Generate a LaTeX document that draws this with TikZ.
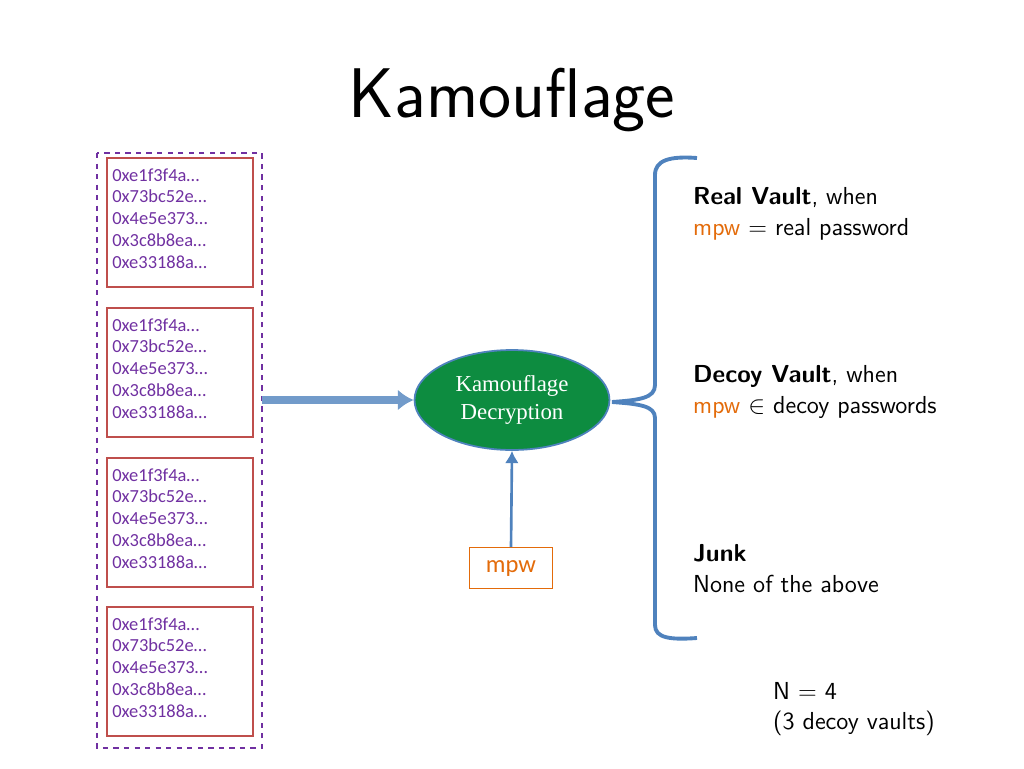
\documentclass[tikz,border=0pt]{standalone}
\usepackage{fontspec}
\setmainfont{Carlito}
\newfontfamily\serifface{Liberation Serif}
\usetikzlibrary{shapes.geometric,arrows.meta}
\definecolor{vault purple}{rgb}{0.44,0.19,0.63}
\definecolor{vault red}{rgb}{0.75,0.31,0.30}
\definecolor{vault blue}{rgb}{0.31,0.51,0.74}
\definecolor{vault green}{rgb}{0.05,0.55,0.25}
\definecolor{vault orange}{rgb}{0.89,0.42,0.04}
\tikzset{
  hexbox/.style = {draw=vault red, line width=1.4pt, minimum width=2.92cm, minimum height=2.58cm,
    text=vault purple, align=left, font=\fontsize{10.5}{13.6}\selectfont, inner sep=0pt},
  says/.style = {anchor=west, align=left, font=\fontsize{14}{17.6}\selectfont\sffamily}
}
\begin{document}
\begin{tikzpicture}[x=0.02cm, y=-0.02cm]
		\useasboundingbox (0, 0) rectangle (1024, 768);
		% title
		\node (title) at (512, 100) {\fontsize{40}{40}\selectfont\sffamily Kamouflage};
		% vault list
		\draw[vault purple, dashed, line width=1.6pt] (97, 153) rectangle (262, 748);
		\foreach \top in {158, 308, 458, 607} {
			\node[hexbox] (vault\top) at (180, \top + 64.5) {};
			\node[anchor=north west, text=vault purple, align=left, inner sep=0pt,
				font=\fontsize{10.5}{12}\selectfont] at (112, \top + 10)
				{0xe1f3f4a…\\[0.4pt]0x73bc52e…\\[0.4pt]0x4e5e373…\\[0.4pt]0x3c8b8ea…\\[0.4pt]0xe33188a…};
		}
		% decryption
		\node[ellipse, fill=vault green, draw=vault blue, line width=1pt, minimum width=3.9cm, minimum height=2cm,
			text=white, align=center, font=\serifface\fontsize{13}{16}\selectfont] (decrypt) at (512, 400)
			{Kamouflage\\Decryption};
		\node[draw=vault orange, text=vault orange, minimum width=1.66cm, minimum height=0.82cm,
			font=\fontsize{14}{14}\selectfont] (mpw) at (511, 568) {mpw};
		\coordinate (listout) at (262, 400);
		\draw[-{Latex[length=9pt,width=12pt]}, line width=4pt, vault blue!80] (listout) -- (decrypt.west);
		\draw[-{Latex[length=7pt,width=8pt]}, line width=1.5pt, vault blue] (mpw.north) -- (decrypt.south);
		% brace
		\draw[vault blue, line width=2.2pt]
			(697, 158) .. controls (670, 156) and (655, 160) .. (655, 175) -- (655, 385)
			.. controls (655, 398) and (640, 400) .. (612, 402)
			.. controls (640, 404) and (655, 406) .. (655, 418) -- (655, 625)
			.. controls (655, 638) and (670, 640) .. (697, 638);
		% outcomes
		\node[says] (real) at (687, 214) {\textbf{Real Vault}, when\\\textcolor{vault orange}{mpw} = real password};
		\node[says] (decoy) at (687, 392) {\textbf{Decoy Vault}, when\\\textcolor{vault orange}{mpw} $\in$ decoy passwords};
		\node[says] (junk) at (687, 569) {\textbf{Junk}\\None of the above};
		\node[says] (count) at (767, 709) {N = 4\\(3 decoy vaults)};
	\end{tikzpicture}
\end{document}
